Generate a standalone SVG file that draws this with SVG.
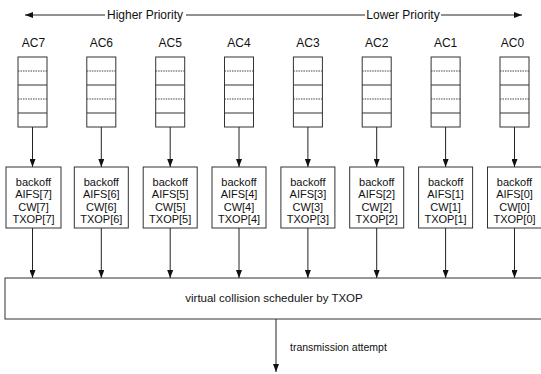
<svg xmlns="http://www.w3.org/2000/svg" width="541" height="374" viewBox="0 0 541 374">
<style>
text{font-family:"Liberation Sans",Arial,sans-serif;fill:#111;}
.lbl{font-size:12px;text-anchor:middle;}
.p{font-size:11px;text-anchor:middle;}
.box{fill:#fff;stroke:#333;stroke-width:1;}
.dv{stroke:#333;stroke-width:1;}
.dt{stroke:#444;stroke-width:1;stroke-dasharray:1.5 1;}
.c{stroke:#222;stroke-width:1;fill:none;}
</style>
<defs>
<marker id="ah" viewBox="0 0 8 6" refX="8" refY="3" markerWidth="8" markerHeight="6" markerUnits="userSpaceOnUse" orient="auto">
<path d="M0,0 L8,3 L0,6 z" fill="#111"/>
</marker>
<g id="q">
<rect class="box" x="-14.5" y="57" width="29" height="70"/>
<line class="dt" x1="-14.5" y1="71" x2="14.5" y2="71"/>
<line class="dv" x1="-14.5" y1="85" x2="14.5" y2="85"/>
<line class="dt" x1="-14.5" y1="99" x2="14.5" y2="99"/>
<line class="dv" x1="-14.5" y1="113" x2="14.5" y2="113"/>
</g>
</defs>
<g id="connectors">
<line class="c" x1="105" y1="15" x2="25" y2="15" marker-end="url(#ah)"/>
<line class="c" x1="186" y1="15" x2="365" y2="15"/>
<line class="c" x1="441" y1="15" x2="522" y2="15" marker-end="url(#ah)"/>
<line class="c" x1="32.5" y1="127" x2="32.5" y2="167" marker-end="url(#ah)"/>
<line class="c" x1="101.3" y1="127" x2="101.3" y2="167" marker-end="url(#ah)"/>
<line class="c" x1="170.2" y1="127" x2="170.2" y2="167" marker-end="url(#ah)"/>
<line class="c" x1="239" y1="127" x2="239" y2="167" marker-end="url(#ah)"/>
<line class="c" x1="307.9" y1="127" x2="307.9" y2="167" marker-end="url(#ah)"/>
<line class="c" x1="376.7" y1="127" x2="376.7" y2="167" marker-end="url(#ah)"/>
<line class="c" x1="445.6" y1="127" x2="445.6" y2="167" marker-end="url(#ah)"/>
<line class="c" x1="514.5" y1="127" x2="514.5" y2="167" marker-end="url(#ah)"/>
<line class="c" x1="32.5" y1="228" x2="32.5" y2="278" marker-end="url(#ah)"/>
<line class="c" x1="101.3" y1="228" x2="101.3" y2="278" marker-end="url(#ah)"/>
<line class="c" x1="170.2" y1="228" x2="170.2" y2="278" marker-end="url(#ah)"/>
<line class="c" x1="239" y1="228" x2="239" y2="278" marker-end="url(#ah)"/>
<line class="c" x1="307.9" y1="228" x2="307.9" y2="278" marker-end="url(#ah)"/>
<line class="c" x1="376.7" y1="228" x2="376.7" y2="278" marker-end="url(#ah)"/>
<line class="c" x1="445.6" y1="228" x2="445.6" y2="278" marker-end="url(#ah)"/>
<line class="c" x1="514.5" y1="228" x2="514.5" y2="278" marker-end="url(#ah)"/>
<line class="c" x1="276" y1="319" x2="276" y2="372" marker-end="url(#ah)"/>
<text x="145" y="19" class="lbl">Higher Priority</text>
<text x="403" y="19" class="lbl">Lower Priority</text>
<text x="290" y="351" style="font-size:10.5px">transmission attempt</text>
</g>
<g id="ac7"><text x="33.5" y="47" class="lbl">AC7</text><use href="#q" x="32.5"/></g>
<g id="ac6"><text x="101.3" y="47" class="lbl">AC6</text><use href="#q" x="101.3"/></g>
<g id="ac5"><text x="170.2" y="47" class="lbl">AC5</text><use href="#q" x="170.2"/></g>
<g id="ac4"><text x="239" y="47" class="lbl">AC4</text><use href="#q" x="239"/></g>
<g id="ac3"><text x="307.9" y="47" class="lbl">AC3</text><use href="#q" x="307.9"/></g>
<g id="ac2"><text x="376.7" y="47" class="lbl">AC2</text><use href="#q" x="376.7"/></g>
<g id="ac1"><text x="445.6" y="47" class="lbl">AC1</text><use href="#q" x="445.6"/></g>
<g id="ac0"><text x="512.5" y="47" class="lbl">AC0</text><use href="#q" x="514.5"/></g>
<g id="params7"><rect class="box" x="6" y="167" width="55" height="61"/><text class="p" x="33.5" y="186">backoff</text><text class="p" x="33.5" y="198.3">AIFS[7]</text><text class="p" x="33.5" y="210.6">CW[7]</text><text class="p" x="33.5" y="222.9">TXOP[7]</text></g>
<g id="params6"><rect class="box" x="74.3" y="167" width="54" height="61"/><text class="p" x="101.3" y="186">backoff</text><text class="p" x="101.3" y="198.3">AIFS[6]</text><text class="p" x="101.3" y="210.6">CW[6]</text><text class="p" x="101.3" y="222.9">TXOP[6]</text></g>
<g id="params5"><rect class="box" x="143.2" y="167" width="54" height="61"/><text class="p" x="170.2" y="186">backoff</text><text class="p" x="170.2" y="198.3">AIFS[5]</text><text class="p" x="170.2" y="210.6">CW[5]</text><text class="p" x="170.2" y="222.9">TXOP[5]</text></g>
<g id="params4"><rect class="box" x="212" y="167" width="54" height="61"/><text class="p" x="239" y="186">backoff</text><text class="p" x="239" y="198.3">AIFS[4]</text><text class="p" x="239" y="210.6">CW[4]</text><text class="p" x="239" y="222.9">TXOP[4]</text></g>
<g id="params3"><rect class="box" x="280.9" y="167" width="54" height="61"/><text class="p" x="307.9" y="186">backoff</text><text class="p" x="307.9" y="198.3">AIFS[3]</text><text class="p" x="307.9" y="210.6">CW[3]</text><text class="p" x="307.9" y="222.9">TXOP[3]</text></g>
<g id="params2"><rect class="box" x="349.7" y="167" width="54" height="61"/><text class="p" x="376.7" y="186">backoff</text><text class="p" x="376.7" y="198.3">AIFS[2]</text><text class="p" x="376.7" y="210.6">CW[2]</text><text class="p" x="376.7" y="222.9">TXOP[2]</text></g>
<g id="params1"><rect class="box" x="418.6" y="167" width="54" height="61"/><text class="p" x="445.6" y="186">backoff</text><text class="p" x="445.6" y="198.3">AIFS[1]</text><text class="p" x="445.6" y="210.6">CW[1]</text><text class="p" x="445.6" y="222.9">TXOP[1]</text></g>
<g id="params0"><rect class="box" x="487.5" y="167" width="54" height="61"/><text class="p" x="514.5" y="186">backoff</text><text class="p" x="514.5" y="198.3">AIFS[0]</text><text class="p" x="514.5" y="210.6">CW[0]</text><text class="p" x="514.5" y="222.9">TXOP[0]</text></g>
<g id="scheduler"><rect class="box" x="5" y="278" width="545" height="41"/><text x="274" y="302" style="font-size:11.5px;text-anchor:middle">virtual collision scheduler by TXOP</text></g>
</svg>
